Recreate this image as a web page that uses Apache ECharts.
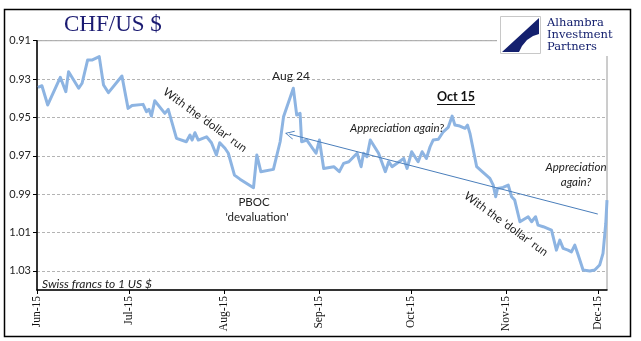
<!DOCTYPE html>
<html>
<head>
<meta charset="utf-8">
<script src="https://cdn.jsdelivr.net/npm/echarts@6/dist/echarts.min.js"></script>
<style>
html,body{margin:0;padding:0;background:#fff;}
#chart{width:641px;height:341px;}
</style>
</head>
<body>
<div id="chart"></div>
<script>
// Days after 1 Jun 2015
const dayOffsets = [0.3,1.6,3.5,7.6,9.4,10.3,13.6,14.7,16.5,17.9,20.3,21.7,23.3,27.7,29.7,31.0,34.6,35.7,36.5,37.3,38.4,41.7,42.8,45.5,48.7,49.9,50.6,51.5,52.6,55.3,56.9,58.5,59.6,61.3,62.4,64.4,66.2,70.6,71.7,73.0,77.1,79.3,80.4,83.6,84.7,85.8,86.3,88.0,91.0,92.1,93.5,96.8,98.6,100.0,101.7,104.4,105.7,106.5,107.6,108.7,111.4,113.6,114.7,115.8,119.6,120.7,122.2,124.3,125.6,127.0,128.2,129.2,130.9,132.5,134.1,135.4,136.3,137.9,139.6,140.4,141.2,143.4,145.2,147.7,148.8,149.6,150.2,152.0,153.7,154.8,155.8,157.5,160.2,161.3,162.6,163.4,165.1,167.8,169.4,170.5,171.6,173.2,174.3,175.4,176.5,178.1,180.3,181.9,183.5,184.6,185.5,185.9];
// Swiss francs per 1 US $
const chfPerUsd = [0.9343,0.9335,0.9435,0.9291,0.9366,0.9262,0.9348,0.9322,0.9201,0.9201,0.9183,0.9331,0.9371,0.9284,0.9453,0.9438,0.9432,0.9470,0.9458,0.9493,0.9413,0.9479,0.9458,0.9609,0.9627,0.9592,0.9618,0.9580,0.9618,0.9601,0.9632,0.9696,0.9632,0.9661,0.9687,0.9801,0.9822,0.9867,0.9696,0.9783,0.9771,0.9627,0.9497,0.9348,0.9488,0.9479,0.9627,0.9618,0.9687,0.9618,0.9766,0.9757,0.9783,0.9740,0.9731,0.9687,0.9757,0.9687,0.9705,0.9618,0.9687,0.9783,0.9731,0.9757,0.9714,0.9766,0.9679,0.9731,0.9679,0.9714,0.9653,0.9618,0.9614,0.9575,0.9552,0.9493,0.9540,0.9545,0.9557,0.9540,0.9583,0.9757,0.9783,0.9818,0.9853,0.9914,0.9870,0.9865,0.9853,0.9914,0.9931,1.0044,1.0018,1.0044,1.0018,1.0062,1.0070,1.0088,1.0192,1.0140,1.0183,1.0192,1.0201,1.0166,1.0218,1.0296,1.0301,1.0296,1.0270,1.0209,1.0053,0.9931];
const monthTickDays = [0,30,61,92,122,153,183];
const monthLabels = ['Jun-15','Jul-15','Aug-15','Sep-15','Oct-15','Nov-15','Dec-15'];
const yTickValues = [0.91,0.93,0.95,0.97,0.99,1.01,1.03];
// trend arrow endpoints [day, value]
const arrowStart = [82.3, 0.9587];
const arrowEnd = [182.9, 1.0004];

const seriesData = [];
for (let i = 0; i < Math.min(dayOffsets.length, chfPerUsd.length); i++) {
  seriesData.push([dayOffsets[i], chfPerUsd[i]]);
}

const chart = echarts.init(document.getElementById('chart'), null, {renderer: 'canvas'});
const sans = 'Lato';
const serif = 'Liberation Serif';
const deg = Math.PI / 180;

const option = {
  animation: false,
  backgroundColor: '#ffffff',
  grid: {
    left: 37, right: 34, top: 40.7, bottom: 51,
    show: true, borderColor: '#9a9a9a', borderWidth: 1, backgroundColor: 'transparent'
  },
  xAxis: {
    type: 'value', min: 0, max: 185.9,
    axisLine: {show: true, onZero: false, lineStyle: {color: '#000', width: 1.5}},
    axisTick: {show: true, customValues: monthTickDays, length: 4, lineStyle: {color: '#000'}},
    axisLabel: {
      show: true, customValues: monthTickDays, rotate: 90, margin: 6,
      fontFamily: serif, fontSize: 11.5, color: '#111',
      formatter: function (v) { const k = monthTickDays.indexOf(Math.round(v)); return k >= 0 ? monthLabels[k] : ''; }
    },
    splitLine: {show: false}
  },
  yAxis: {
    type: 'value', inverse: true, min: 0.91, max: 1.04,
    axisLine: {show: true, onZero: false, lineStyle: {color: '#000', width: 1.5}},
    axisTick: {show: true, customValues: yTickValues, length: 4, lineStyle: {color: '#000'}},
    axisLabel: {
      show: true, customValues: yTickValues, margin: 6,
      fontFamily: sans, fontSize: 11, color: '#222',
      formatter: function (v) { return v.toFixed(2); }
    },
    splitLine: {show: true, lineStyle: {color: '#b4b4b4', type: [3, 2], width: 1}}
  },
  series: [{
    type: 'line',
    data: seriesData,
    showSymbol: false,
    symbol: 'none',
    lineStyle: {color: '#8db4e2', width: 3, join: 'round'},
    itemStyle: {color: '#8db4e2'},
    emphasis: {disabled: true},
    z: 3,
    markLine: {
      silent: true,
      animation: false,
      label: {show: false},
      emphasis: {disabled: true},
      lineStyle: {color: '#4a7ebb', width: 1, type: 'solid'},
      data: [[
        {coord: arrowStart, symbol: 'path://M5,0 L10,10 L9,10 L5,2 L1,10 L0,10 Z', symbolSize: [9, 9]},
        {coord: arrowEnd, symbol: 'none'}
      ]]
    }
  }],
  graphic: [
    // outer frame
    {type: 'rect', z: 50, shape: {x: 4.5, y: 9.5, width: 626, height: 327}, style: {fill: 'transparent', stroke: '#000', lineWidth: 1.5}},
    // title
    {type: 'text', z: 50, x: 64, y: 25, style: {text: 'CHF/US $', font: '23px "Liberation Serif"', fill: '#1b1b72', verticalAlign: 'middle'}},
    // logo cover
    {type: 'rect', z: 60, shape: {x: 497, y: 12, width: 128, height: 44}, style: {fill: '#ffffff'}},
    {type: 'rect', z: 61, shape: {x: 500.5, y: 16.5, width: 40, height: 37}, style: {fill: '#ffffff', stroke: '#c8c8c8', lineWidth: 1}},
    {type: 'polygon', z: 62, shape: {points: [[539,18],[502,52],[519,52],[522,46],[527,40],[533,36],[539,34]]}, style: {fill: '#14206e'}},
    {type: 'text', z: 62, x: 547, y: 23, style: {text: 'Alhambra', font: '11.5px "DejaVu Serif"', fill: '#14206e', verticalAlign: 'middle'}},
    {type: 'text', z: 62, x: 547, y: 35, style: {text: 'Investment', font: '11.5px "DejaVu Serif"', fill: '#14206e', verticalAlign: 'middle'}},
    {type: 'text', z: 62, x: 547, y: 47, style: {text: 'Partners', font: '11.5px "DejaVu Serif"', fill: '#14206e', verticalAlign: 'middle'}},
    // annotations
    {type: 'text', z: 50, x: 291, y: 76, style: {text: 'Aug 24', font: '12px Lato', fill: '#222', align: 'center', verticalAlign: 'middle'}},
    {type: 'text', z: 50, x: 456, y: 97, style: {text: 'Oct 15', font: 'bold 12.5px Lato', fill: '#111', align: 'center', verticalAlign: 'middle'}},
    {type: 'line', z: 50, shape: {x1: 437, y1: 104.5, x2: 475, y2: 104.5}, style: {stroke: '#111', lineWidth: 1}},
    {type: 'text', z: 50, x: 397, y: 128, style: {text: 'Appreciation again?', font: 'italic 11.5px Lato', fill: '#222', align: 'center', verticalAlign: 'middle'}},
    {type: 'text', z: 50, x: 576, y: 167.5, style: {text: 'Appreciation', font: 'italic 11.5px Lato', fill: '#222', align: 'center', verticalAlign: 'middle'}},
    {type: 'text', z: 50, x: 576, y: 182, style: {text: 'again?', font: 'italic 11.5px Lato', fill: '#222', align: 'center', verticalAlign: 'middle'}},
    {type: 'text', z: 50, x: 254, y: 202.5, style: {text: 'PBOC', font: '11.5px Lato', fill: '#222', align: 'center', verticalAlign: 'middle'}},
    {type: 'text', z: 50, x: 257, y: 217, style: {text: "'devaluation'", font: '11.5px Lato', fill: '#222', align: 'center', verticalAlign: 'middle'}},
    {type: 'text', z: 50, x: 205, y: 120, rotation: -36 * deg, style: {text: "With the 'dollar' run", font: '11.5px Lato', fill: '#222', align: 'center', verticalAlign: 'middle'}},
    {type: 'text', z: 50, x: 506, y: 224, rotation: -36 * deg, style: {text: "With the 'dollar' run", font: '11.5px Lato', fill: '#222', align: 'center', verticalAlign: 'middle'}},
    {type: 'text', z: 50, x: 42, y: 284, style: {text: 'Swiss francs to 1 US $', font: 'italic 12px Lato', fill: '#222', align: 'left', verticalAlign: 'middle'}}
  ]
};
chart.setOption(option);
</script>
</body>
</html>
